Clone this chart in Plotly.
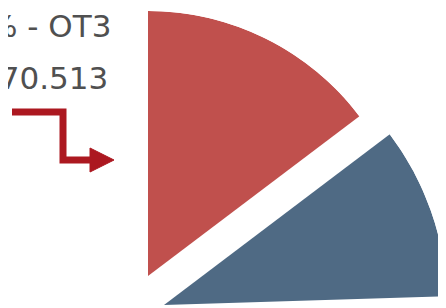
import plotly.graph_objects as go

# ---- data ----
slice_labels = ["OT3", "OT2", "Outros"]
slice_shares = [14.7, 9.8, 75.5]          # percent of the whole pie
slice_colors = ["#C0504D", "#4F6A84", "rgba(0,0,0,0)"]
label_line1 = "14,7% - OT3"
label_line2 = "170.513"

W, H = 446, 308
OFF = 8   # page body margin: figure starts 8px in from the window corner

# angular geometry from the shares (clockwise from 12 o'clock)
thetas, widths = [], []
start = 0.0
for s in slice_shares:
    w = s / 100.0 * 360.0
    thetas.append(start + w / 2.0)
    widths.append(w)
    start += w

fig = go.Figure()

# each visible slice sits in its own quarter polar subplot (exploded look)
def px_domain(cx, cy, R):
    cx -= OFF
    cy -= OFF
    return dict(x=[cx / W, (cx + R) / W], y=[(H - cy) / H, (H - cy + R) / H])

slice_geo = [(148, 276, 265), (164, 305, 283)]   # centre x, centre y, radius (window px)
subplots = ["polar", "polar2"]

for i in [1, 0]:
    fig.add_trace(go.Barpolar(
        r=[1], theta=[thetas[i]], width=[widths[i]],
        marker=dict(color=slice_colors[i], line=dict(width=0)),
        name=slice_labels[i], subplot=subplots[i], showlegend=False,
        hoverinfo="skip"))

polar_common = dict(
    sector=[0, 90],
    bgcolor="rgba(0,0,0,0)",
    radialaxis=dict(range=[0, 1], visible=False),
    angularaxis=dict(rotation=90, direction="clockwise", visible=False),
)
for i, name in enumerate(subplots):
    cx, cy, R = slice_geo[i]
    fig.update_layout(**{name: dict(domain=px_domain(cx, cy, R), **polar_common)})

# helper pixel axes (window pixel coordinates) for the label and arrow
fig.update_layout(
    xaxis=dict(range=[OFF, W + OFF], visible=False, domain=[0, 1], fixedrange=True),
    yaxis=dict(range=[H + OFF, OFF], visible=False, domain=[0, 1], fixedrange=True),
)

arrow_col = "#AC1820"
fig.add_shape(type="path", xref="x", yref="y",
              path="M 12 112 L 63 112 L 63 160 L 92 160",
              line=dict(color=arrow_col, width=7), fillcolor="rgba(0,0,0,0)")
fig.add_shape(type="path", xref="x", yref="y",
              path="M 90 148 L 114 160 L 90 172 Z",
              line=dict(color=arrow_col, width=1), fillcolor=arrow_col)

txt_font = dict(family="DejaVu Sans", size=31, color="#505050")
fig.add_annotation(x=113, y=26, xref="x", yref="y", text=label_line1,
                   showarrow=False, xanchor="right", yanchor="middle", font=txt_font)
fig.add_annotation(x=110, y=78, xref="x", yref="y", text=label_line2,
                   showarrow=False, xanchor="right", yanchor="middle", font=txt_font)

fig.update_layout(
    width=W, height=H,
    margin=dict(l=0, r=0, t=0, b=0),
    paper_bgcolor="white", plot_bgcolor="white",
    showlegend=False,
)

fig.write_html("out.html", config={"displayModeBar": False})
